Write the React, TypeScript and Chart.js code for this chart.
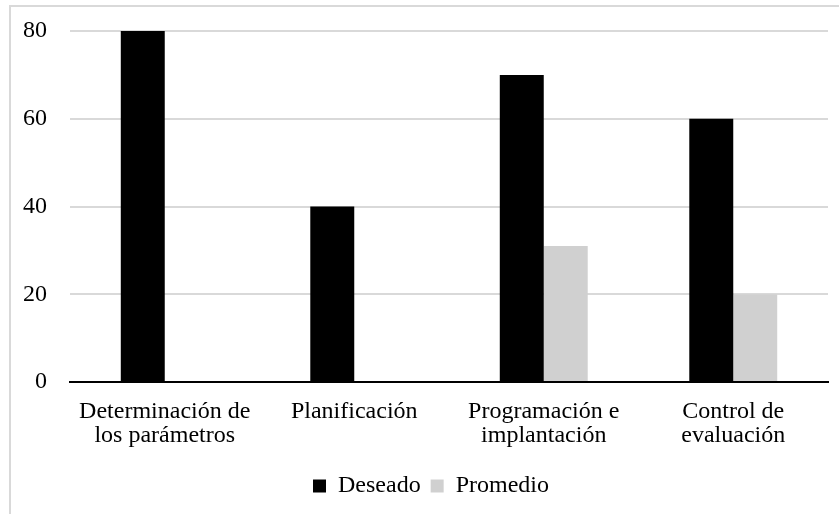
import React, { useEffect, useRef } from "react";
import { Chart, registerables } from "chart.js";

Chart.register(...registerables);

const categories: string[][] = [
  ["Determinación de", "los parámetros"],
  ["Planificación"],
  ["Programación e", "implantación"],
  ["Control de", "evaluación"],
];
const deseado: number[] = [80, 40, 70, 60];
const promedio: number[] = [0, 0, 31, 20];
const yTicks: number[] = [0, 20, 40, 60, 80];

const FONT = "'Liberation Serif', 'Times New Roman', serif";

const framePlugin = {
  id: "frame",
  afterLayout(chart: any) {
    const lg = chart.legend;
    if (lg) {
      lg.left += 17;
      lg.right += 17;
    }
  },
  beforeDraw(chart: any) {
    const ctx = chart.ctx;
    ctx.save();
    ctx.fillStyle = "#ffffff";
    ctx.fillRect(0, 0, chart.width, chart.height);
    ctx.strokeStyle = "#d9d9d9";
    ctx.lineWidth = 2;
    ctx.beginPath();
    ctx.moveTo(10, chart.height + 5);
    ctx.lineTo(10, 6);
    ctx.lineTo(chart.width + 5, 6);
    ctx.stroke();
    ctx.restore();
  },
};

export default function App() {
  const ref = useRef<HTMLCanvasElement | null>(null);
  useEffect(() => {
    if (!ref.current) return;
    const chart = new Chart(ref.current, {
      type: "bar",
      data: {
        labels: categories,
        datasets: [
          {
            label: "Deseado",
            data: deseado,
            backgroundColor: "#000000",
            borderWidth: 0,
          },
          {
            label: "Promedio",
            data: promedio,
            backgroundColor: "#d0d0d0",
            borderWidth: 0,
          },
        ],
      },
      options: {
        animation: false,
        responsive: false,
        maintainAspectRatio: false,
        layout: { padding: { top: 31, right: 11, left: 0, bottom: 6 } },
        datasets: {
          bar: { barPercentage: 1, categoryPercentage: 0.464 },
        },
        plugins: {
          tooltip: { enabled: false },
          legend: {
            position: "bottom",
            labels: {
              boxWidth: 13,
              boxHeight: 13,
              color: "#000",
              padding: 10,
              font: { family: FONT, size: 24 },
            },
          },
        },
        scales: {
          x: {
            grid: { display: false, drawTicks: false },
            border: { display: true, color: "#000", width: 2 },
            ticks: {
              color: "#000",
              padding: 18,
              maxRotation: 0,
              autoSkip: false,
              font: { family: FONT, size: 24, lineHeight: 1 },
            },
            afterFit(scale: any) {
              scale.height = 82;
            },
          },
          y: {
            min: 0,
            max: 80,
            afterBuildTicks(scale: any) {
              scale.ticks = yTicks.map((v) => ({ value: v }));
            },
            grid: { color: "#d9d9d9", lineWidth: 2, drawTicks: false },
            border: { display: false },
            ticks: {
              color: "#000",
              padding: 23,
              font: { family: FONT, size: 24 },
            },
            afterFit(scale: any) {
              scale.width = 70;
              scale.paddingTop = 14;
              scale.paddingBottom = 14;
            },
          },
        },
      },
      plugins: [framePlugin],
    });
    return () => chart.destroy();
  }, []);
  return (
    <div style={{ position: "fixed", left: 0, top: 0, width: 839, height: 514, background: "#fff" }}>
      <canvas ref={ref} width={839} height={514} style={{ display: "block" }} />
    </div>
  );
}
